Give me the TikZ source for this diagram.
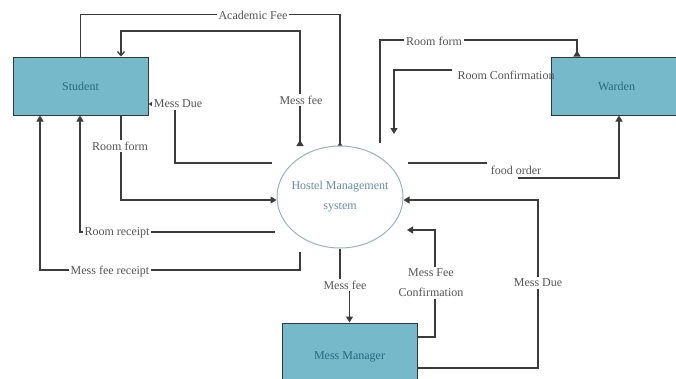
\documentclass[tikz,border=0pt]{standalone}
\usepackage{fontspec}
\setmainfont{Liberation Serif}
\usetikzlibrary{arrows.meta,shapes.geometric}
\definecolor{boxfill}{RGB}{117,185,203}
\definecolor{boxtext}{RGB}{40,105,128}
\definecolor{linec}{RGB}{60,60,60}
\definecolor{lblc}{RGB}{85,85,85}
\definecolor{ellc}{RGB}{150,180,186}
\definecolor{elltext}{RGB}{105,140,168}
\tikzset{
  entity/.style={draw=linec!90!black,line width=1pt,fill=boxfill,text=boxtext,
    font=\fontsize{12}{14}\selectfont,inner sep=0pt},
  proc/.style={ellipse,draw=ellc,line width=1pt,fill=white,text=elltext,
    minimum width=126pt,minimum height=102pt,inner sep=0pt,align=center,
    font=\fontsize{12}{20}\selectfont},
  flow/.style={draw=linec,line width=1.3pt},
  lbl/.style={text=lblc,font=\fontsize{12}{20}\selectfont,inner sep=2pt,align=center},
  lblw/.style={lbl,fill=white},
  tip/.style={-{Triangle[length=6pt,width=7pt]}},
  rtip/.style={-{Triangle[reversed,length=6pt,width=7pt]}},
  stip/.style={-{Triangle[reversed,length=4pt,width=4pt]}},
}
\begin{document}
\begin{tikzpicture}[x=1pt,y=-1pt]
\useasboundingbox (0,0) rectangle (676,378);
\clip (0,0) rectangle (676,378);

% entities
\node[entity,minimum width=135pt,minimum height=58pt] (student) at (80.5,86) {Student};
\node[entity,minimum width=131pt,minimum height=58pt] (warden) at (616.5,86) {Warden};
\node[entity,minimum width=135pt,minimum height=68pt] (manager) at (349.5,357) {Mess Manager};
\node[proc] (hms) at (340,197) {\makebox[0pt]{Hostel Management}\\\makebox[0pt]{system}};

% free ends
\coordinate (mf1) at (300,146);
\coordinate (md1) at (272,163);
\coordinate (rr1) at (275,232);
\coordinate (mfr1) at (300,252);
\coordinate (mfc1) at (407,230);
\coordinate (rfw1) at (380,143);
\coordinate (rc1) at (452,70);
\coordinate (fo1) at (408,163);
\coordinate (fo2) at (487,163);
\coordinate (fo3) at (518,178);

% Academic Fee
\draw[flow,stip] (student.north) -- ++(0,-42) -| (hms.north);
% Mess fee (top)
\draw[flow,{Triangle[reversed,length=6pt,width=7pt]}-{Straight Barb[length=4pt,width=7pt]}]
  (mf1) |- (121,31) -- ([xshift=40.5pt]student.north);
% Mess Due (student)
\draw[flow,tip] (md1) -| (175,104) -- ([yshift=-18pt]student.east);
% Room form (student)
\draw[flow,tip] ([xshift=40.5pt]student.south) |- ([yshift=-3pt]hms.west);
% Room receipt
\draw[flow,tip] (rr1) -| ([xshift=-0.5pt]student.south);
% Mess fee receipt
\draw[flow,tip] (mfr1) -- (300,270) -| ([xshift=-40.5pt]student.south);
% Mess fee (to manager)
\draw[flow,tip] (hms.south) -- (340,285) -- (349.5,285) -- (manager.north);
% Mess Fee Confirmation
\draw[flow,tip] ([yshift=20pt]manager.east) -| (435,230) -- (mfc1);
% Mess Due (right)
\draw[flow,tip] ([yshift=-11pt]manager.east) -| (538,200) -- ([yshift=-3pt]hms.east);
% Room form (warden)
\draw[flow,rtip] (rfw1) -- (380,40) -| ([xshift=-39.5pt]warden.north);
% Room Confirmation
\draw[flow,tip] (rc1) -| (394,134);
% food order
\draw[flow,tip] (fo1) -- (fo2) (fo3) -| ([xshift=2.5pt]warden.south);

% labels
\node[lblw] (lAF) at (253,15) {Academic Fee};
\node[lblw] (lMF) at (301,100) {Mess fee};
\node[lblw] (lMD) at (178,104) {Mess Due};
\node[lblw] (lRF) at (120,146) {Room form};
\node[lblw] (lRR) at (117,233) {Room receipt};
\node[lblw] (lMFR) at (110,272) {Mess fee receipt};
\node[lblw] (lMF2) at (345,285) {Mess fee};
\node[lblw] (lMFC) at (431,283) {Mess Fee\\Confirmation};
\node[lblw] (lMD2) at (538,283) {Mess Due};
\node[lblw] (lRFW) at (434,41) {Room form};
\node[lbl] (lRC) at (506,75) {Room Confirmation};
\node[lbl] (lFO) at (516,170) {food order};
\end{tikzpicture}
\end{document}
